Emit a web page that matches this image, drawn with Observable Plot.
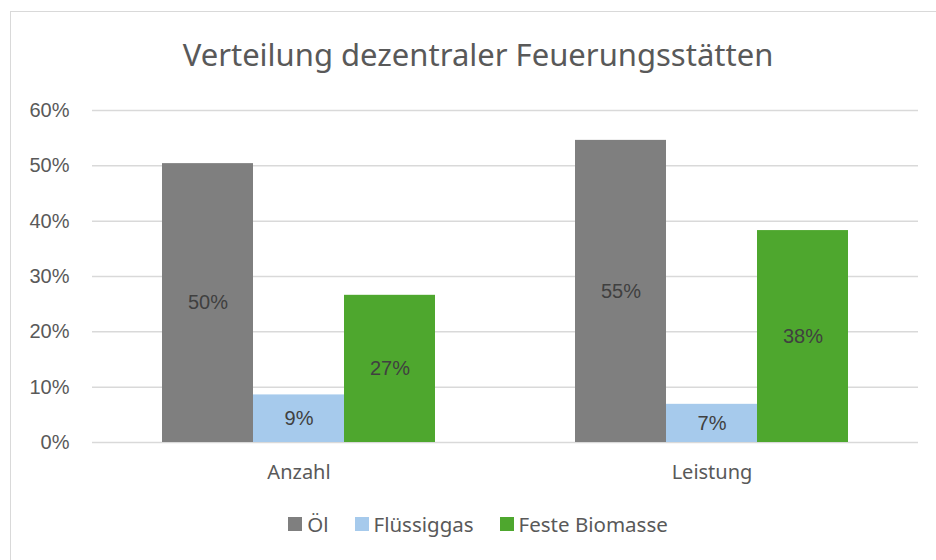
<!DOCTYPE html>
<html><head><meta charset="utf-8">
<script src="https://cdn.jsdelivr.net/npm/d3@7"></script>
<script src="https://cdn.jsdelivr.net/npm/@observablehq/plot@0.6"></script>
<style>
html,body{margin:0;padding:0;background:#fff;overflow:hidden;width:936px;height:560px}
#frame{position:absolute;left:10px;top:11px;width:1000px;height:1000px;border-left:1px solid #d9d9d9;border-top:1px solid #d9d9d9}
#title{position:absolute;left:10px;width:936px;top:34px;text-align:center;font-family:"Noto Sans";font-size:31px;color:#595959;line-height:40px}
#chart{position:absolute;left:0;top:90px}
#legend{position:absolute;left:10px;width:936px;top:512px;display:flex;justify-content:center;gap:26px;font-family:"Noto Sans";font-size:20.5px;color:#595959;line-height:24px}
#legend .item{display:flex;align-items:center;gap:5px}
#legend .sw{width:14px;height:14px;display:inline-block}
</style></head>
<body>
<div id="frame"></div>
<div id="title">Verteilung dezentraler Feuerungsstätten</div>
<div id="chart"></div>
<div id="legend"></div>
<script>
const groups = ["Anzahl", "Leistung"];
const series = ["Öl", "Flüssiggas", "Feste Biomasse"];
const colors = ["#7f7f7f", "#a6caec", "#4ea72e"];
const oel = [0.504, 0.546];
const fluessiggas = [0.086, 0.069];
const biomasse = [0.266, 0.383];
const yTicks = [0, 0.1, 0.2, 0.3, 0.4, 0.5, 0.6];

const seriesValues = [oel, fluessiggas, biomasse];
const data = groups.flatMap((g, i) => series.map((s, j) => ({group: g, series: s, value: seriesValues[j][i]})));
const pct = d3.format(".0%");

const chart = Plot.plot({
  width: 936,
  height: 402,
  marginTop: 20,
  marginBottom: 50,
  marginLeft: 92,
  marginRight: 18,
  style: {fontFamily: "'Liberation Sans', Arial, sans-serif", fontSize: "20px", color: "#595959", background: "transparent"},
  fx: {domain: groups, padding: 0, label: null},
  x: {domain: series, paddingInner: 0, paddingOuter: 0.75, axis: null},
  y: {domain: [0, 0.6], label: null},
  color: {domain: series, range: colors},
  marks: [
    Plot.ruleY(yTicks, {stroke: "#d9d9d9", strokeWidth: 1.5}),
    Plot.barY(data, {fx: "group", x: "series", y: "value", fill: "series"}),
    Plot.text(data, {fx: "group", x: "series", y: d => d.value / 2, text: d => pct(d.value), fill: "#404040", fontSize: 20}),
    Plot.axisY(yTicks, {tickSize: 0, tickPadding: 23, tickFormat: pct, label: null, fontSize: 20, fill: "#595959"}),
    Plot.axisFx({anchor: "bottom", tickSize: 0, tickPadding: 22, label: null, fontSize: 20, fontFamily: "Noto Sans", fill: "#595959"})
  ]
});
document.getElementById("chart").append(chart);

const legend = document.getElementById("legend");
series.forEach((s, i) => {
  const item = document.createElement("span");
  item.className = "item";
  const sw = document.createElement("span");
  sw.className = "sw";
  sw.style.background = colors[i];
  const label = document.createElement("span");
  label.textContent = s;
  item.append(sw, label);
  legend.append(item);
});
</script>
</body></html>
